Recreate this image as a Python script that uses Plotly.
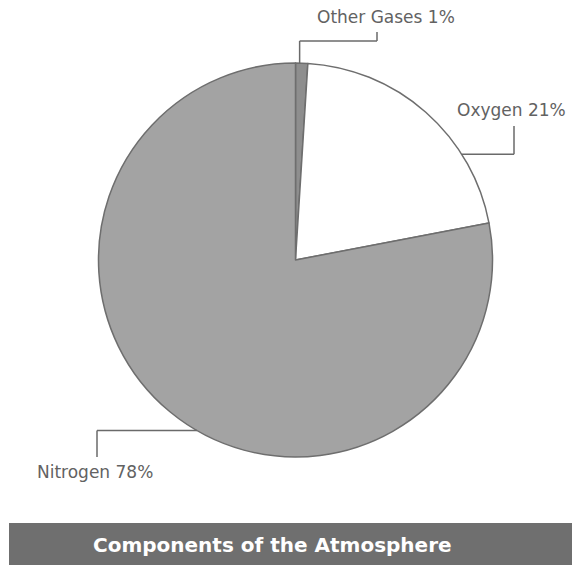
import math
import plotly.graph_objects as go

# Composition of the atmosphere (percent by volume)
components = ["Other Gases", "Oxygen", "Nitrogen"]
shares = [1, 21, 78]
fills = ["#8e8e8e", "#ffffff", "#a3a3a3"]

W, H = 572, 565
CX, CY, R = 295.5, 260.0, 197.0   # pie centre and radius in pixels


def px(x, y):
    """Pixel position -> paper coordinates."""
    return x / W, 1 - y / H


def rim(angle_deg):
    """Point on the pie rim, angle measured clockwise from 12 o'clock."""
    a = math.radians(angle_deg)
    return CX + R * math.sin(a), CY - R * math.cos(a)


fig = go.Figure(
    go.Pie(
        labels=components,
        values=shares,
        sort=False,
        direction="clockwise",
        rotation=0,
        marker=dict(colors=fills, line=dict(color="#6e6e6e", width=1.5)),
        textinfo="none",
        hoverinfo="label+percent",
        showlegend=False,
        domain=dict(
            x=[(CX - R) / W, (CX + R) / W],
            y=[1 - (CY + R) / H, 1 - (CY - R) / H],
        ),
    )
)

# Leader lines: rim anchor angle, elbow path, label position
leaders = [
    (1.2, lambda p: [p, (p[0], 41), (377, 41), (377, 32)], (386, 17)),
    (57.5, lambda p: [p, (514, p[1]), (514, 126)], (511, 110)),
    (210.0, lambda p: [p, (97, p[1]), (97, 457)], (95, 472)),
]

shapes = []
annotations = []
for (ang, path_fn, (lx, ly)), name, share in zip(leaders, components, shares):
    pts = path_fn(rim(ang))
    for (x0, y0), (x1, y1) in zip(pts[:-1], pts[1:]):
        a0, b0 = px(x0, y0)
        a1, b1 = px(x1, y1)
        shapes.append(dict(type="line", xref="paper", yref="paper",
                           x0=a0, y0=b0, x1=a1, y1=b1,
                           line=dict(color="#6a6a6a", width=1.5)))
    ax, ay = px(lx, ly)
    annotations.append(dict(x=ax, y=ay, xref="paper", yref="paper",
                            text=f"{name} {share}%", showarrow=False,
                            xanchor="center", yanchor="middle",
                            font=dict(family="DejaVu Sans", size=17, color="#626262")))

# Title band
bx0, by0 = px(9, 523)
bx1, by1 = px(572, 565)
shapes.append(dict(type="rect", xref="paper", yref="paper",
                   x0=bx0, y0=by0, x1=bx1, y1=by1,
                   fillcolor="#6f6f6f", line=dict(width=0), layer="below"))
tx, ty = px(272, 545)
annotations.append(dict(x=tx, y=ty, xref="paper", yref="paper",
                        text="<b>Components of the Atmosphere</b>", showarrow=False,
                        xanchor="center", yanchor="middle",
                        font=dict(family="DejaVu Sans", size=20, color="#ffffff")))

fig.update_layout(
    width=W, height=H,
    margin=dict(l=0, r=0, t=0, b=0),
    paper_bgcolor="#ffffff",
    plot_bgcolor="#ffffff",
    shapes=shapes,
    annotations=annotations,
)

fig.write_html("out.html")
